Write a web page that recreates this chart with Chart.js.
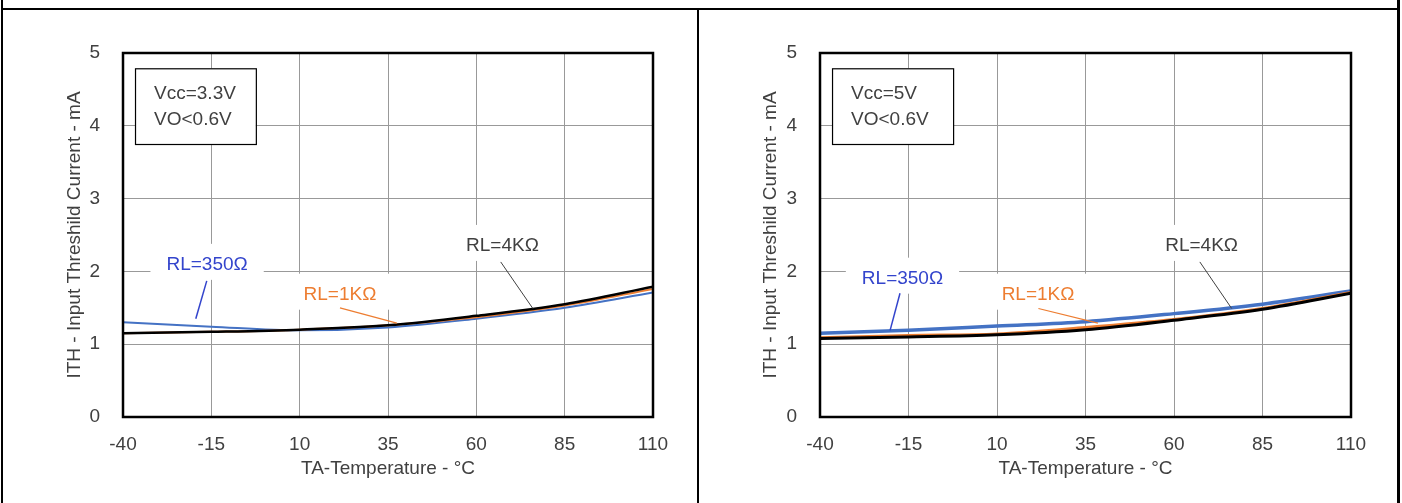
<!DOCTYPE html>
<html>
<head>
<meta charset="utf-8">
<script src="https://cdn.jsdelivr.net/npm/chart.js@4.4.0/dist/chart.umd.min.js"></script>
<style>
  body { margin: 0; background: #fff; width: 1402px; height: 503px; overflow: hidden; position: relative; }
  .rule { position: absolute; background: #000; }
  .cell { position: absolute; top: 10px; height: 493px; }
</style>
</head>
<body>
<div class="rule" style="left:1px;top:0;width:2px;height:503px"></div>
<div class="rule" style="left:1397px;top:0;width:3px;height:503px"></div>
<div class="rule" style="left:1px;top:8px;width:1399px;height:2px"></div>
<div class="rule" style="left:697px;top:8px;width:2px;height:495px"></div>
<div class="cell" style="left:3px;width:694px"><canvas id="chart33" width="694" height="493"></canvas></div>
<div class="cell" style="left:699px;width:698px"><canvas id="chart5" width="698" height="493"></canvas></div>

<script>
// temperature points / tick labels (°C) and current ticks (mA)
const temps = [-40, -15, 10, 35, 60, 85, 110];
const currentTicks = [0, 1, 2, 3, 4, 5];

// Vcc = 3.3V
const vcc33_rl350 = [1.30, 1.24, 1.19, 1.23, 1.35, 1.50, 1.71];
const vcc33_rl1k  = [1.15, 1.17, 1.20, 1.26, 1.37, 1.53, 1.76];
const vcc33_rl4k  = [1.15, 1.17, 1.20, 1.26, 1.39, 1.55, 1.79];

// Vcc = 5V
const vcc5_rl350 = [1.15, 1.19, 1.25, 1.31, 1.42, 1.55, 1.73];
const vcc5_rl1k  = [1.09, 1.12, 1.14, 1.23, 1.34, 1.49, 1.71];
const vcc5_rl4k  = [1.08, 1.10, 1.13, 1.20, 1.33, 1.48, 1.70];

const textColor = '#404040';
const gridColor = '#999999';
const fontFamily = "'Liberation Sans', Arial, sans-serif";
const font = { family: fontFamily, size: 19 };

// draws the frame, the condition box and the RL call-outs
const annotate = {
    id: 'annotate',
    afterDatasetsDraw(chart, args, opts) {
        const { ctx, chartArea: a, scales: { x, y } } = chart;
        ctx.save();
        ctx.font = '19px ' + fontFamily;

        // condition box
        const b = opts.box;
        const bx = x.getPixelForValue(b.x0), by = y.getPixelForValue(b.y0);
        const bw = x.getPixelForValue(b.x1) - bx, bh = y.getPixelForValue(b.y1) - by;
        ctx.fillStyle = '#fff';
        ctx.fillRect(bx, by, bw, bh);
        ctx.strokeStyle = '#000';
        ctx.lineWidth = 1.2;
        ctx.strokeRect(bx + 0.5, by + 0.5, bw, bh);
        ctx.fillStyle = textColor;
        ctx.textAlign = 'left';
        ctx.textBaseline = 'middle';
        b.lines.forEach((t, i) => ctx.fillText(t, bx + 19, by + 25 + i * 26));

        // call-outs
        opts.labels.forEach(l => {
            const cx = x.getPixelForValue(l.x), cy = y.getPixelForValue(l.y);
            const w = ctx.measureText(l.text).width + 32;
            ctx.fillStyle = '#fff';
            ctx.fillRect(cx - w / 2, cy - 21, w, 36);
            ctx.beginPath();
            ctx.moveTo(x.getPixelForValue(l.from[0]), y.getPixelForValue(l.from[1]));
            ctx.lineTo(x.getPixelForValue(l.to[0]), y.getPixelForValue(l.to[1]));
            ctx.strokeStyle = l.line;
            ctx.lineWidth = l.lw;
            ctx.stroke();
            ctx.fillStyle = l.color;
            ctx.textAlign = 'center';
            ctx.fillText(l.text, cx, cy);
        });

        // plot frame
        ctx.strokeStyle = '#000';
        ctx.lineWidth = 2.5;
        ctx.strokeRect(a.left, a.top, a.right - a.left, a.bottom - a.top);
        ctx.restore();
    }
};

function toPoints(values) {
    return values.map((v, i) => ({ x: temps[i], y: v }));
}

function makeChart(id, series, notes, layout) {
    return new Chart(document.getElementById(id), {
        type: 'line',
        data: {
            datasets: [
                { label: 'RL=4KΩ', data: toPoints(series.rl4k), borderColor: '#000000', borderWidth: layout.lw[0] },
                { label: 'RL=1KΩ', data: toPoints(series.rl1k), borderColor: '#ED7D31', borderWidth: layout.lw[1] },
                { label: 'RL=350Ω', data: toPoints(series.rl350), borderColor: '#4472C4', borderWidth: layout.lw[2] }
            ]
        },
        options: {
            responsive: false,
            animation: false,
            elements: {
                point: { radius: 0 },
                line: { cubicInterpolationMode: 'monotone', fill: false }
            },
            layout: { padding: { left: 0, right: layout.right, top: 43, bottom: 0 } },
            scales: {
                x: {
                    type: 'linear',
                    min: -40,
                    max: 110,
                    afterBuildTicks: s => { s.ticks = temps.map(v => ({ value: v })); },
                    afterFit: s => { s.height = 86; },
                    grid: { color: gridColor, lineWidth: 1, drawTicks: false },
                    border: { display: false },
                    ticks: { color: textColor, font: font, padding: 16, maxRotation: 0, autoSkip: false },
                    title: { display: true, text: 'TA-Temperature - °C', color: textColor, font: font, padding: { top: 0, bottom: 23 } }
                },
                y: {
                    min: 0,
                    max: 5,
                    afterBuildTicks: s => { s.ticks = currentTicks.map(v => ({ value: v })); },
                    afterFit: s => { s.width = layout.yWidth; },
                    grid: { color: gridColor, lineWidth: 1, drawTicks: false },
                    border: { display: false },
                    ticks: { color: textColor, font: font, padding: 23 },
                    title: { display: true, text: 'ITH - Input Threshild Current - mA', color: textColor, font: font, padding: { top: 60, bottom: 0 } }
                }
            },
            plugins: {
                legend: { display: false },
                tooltip: { enabled: false },
                annotate: notes
            }
        },
        plugins: [annotate]
    });
}

makeChart('chart33',
    { rl350: vcc33_rl350, rl1k: vcc33_rl1k, rl4k: vcc33_rl4k },
    {
        box: { x0: -36.6, x1: -2.4, y0: 4.79, y1: 3.75, lines: ['Vcc=3.3V', 'VO<0.6V'] },
        labels: [
            { text: 'RL=350Ω', color: '#3344CC', line: '#3344CC', lw: 1.5, x: -16.2, y: 2.09, from: [-16.3, 1.87], to: [-19.4, 1.35] },
            { text: 'RL=1KΩ', color: '#ED7D31', line: '#ED7D31', lw: 1.2, x: 21.4, y: 1.68, from: [21.4, 1.50], to: [37.5, 1.29] },
            { text: 'RL=4KΩ', color: textColor, line: '#404040', lw: 1, x: 67.4, y: 2.35, from: [66.9, 2.13], to: [76, 1.49] }
        ]
    },
    { right: 44, yWidth: 120, lw: [2.5, 2, 2] });

makeChart('chart5',
    { rl350: vcc5_rl350, rl1k: vcc5_rl1k, rl4k: vcc5_rl4k },
    {
        box: { x0: -36.6, x1: -2.4, y0: 4.79, y1: 3.75, lines: ['Vcc=5V', 'VO<0.6V'] },
        labels: [
            { text: 'RL=350Ω', color: '#3344CC', line: '#3344CC', lw: 1.5, x: -16.7, y: 1.90, from: [-17.4, 1.70], to: [-20.2, 1.19] },
            { text: 'RL=1KΩ', color: '#ED7D31', line: '#ED7D31', lw: 1.2, x: 21.6, y: 1.68, from: [21.7, 1.49], to: [38.5, 1.29] },
            { text: 'RL=4KΩ', color: textColor, line: '#404040', lw: 1, x: 67.8, y: 2.35, from: [67.3, 2.13], to: [76.3, 1.49] }
        ]
    },
    { right: 46, yWidth: 121, lw: [3, 3, 3.5] });
</script>
</body>
</html>
